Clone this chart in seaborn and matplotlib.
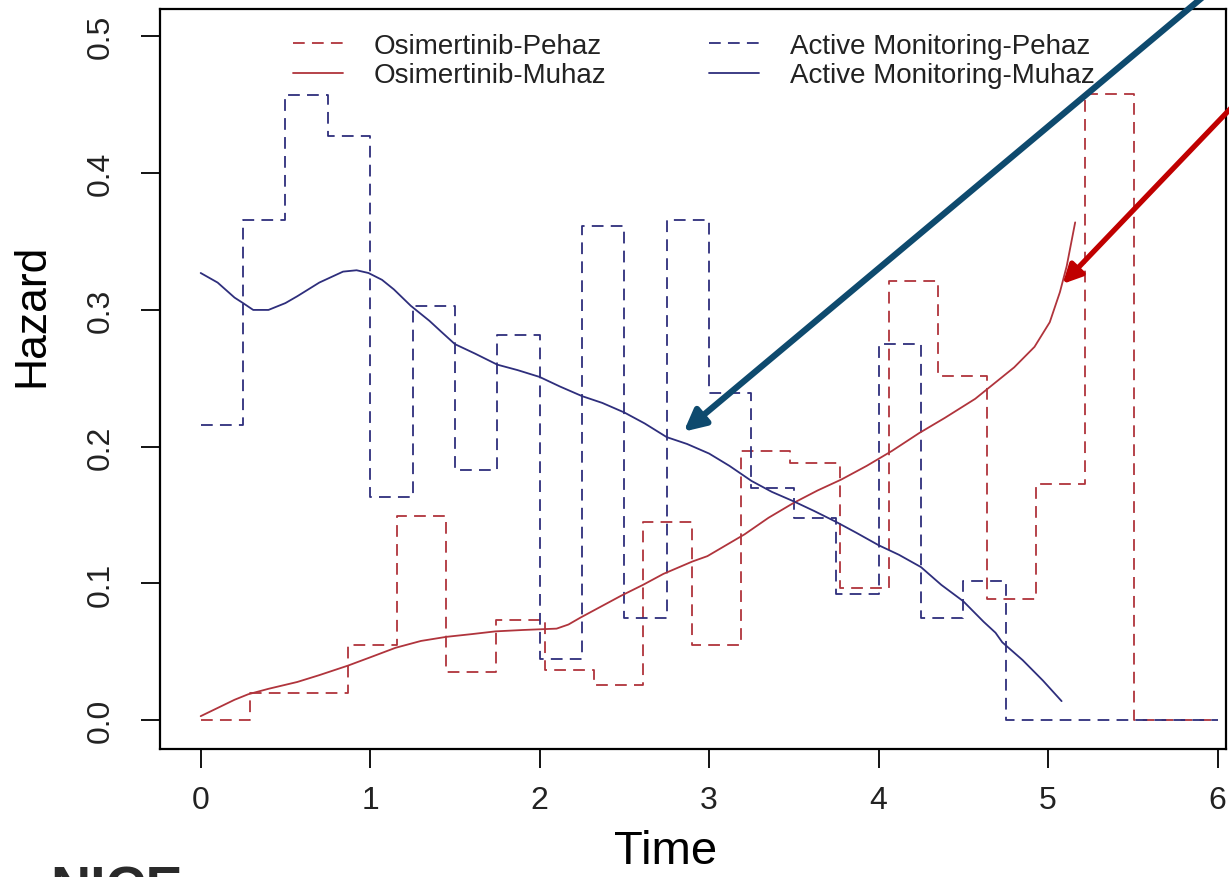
import numpy as np
import pandas as pd
import matplotlib
matplotlib.use("Agg")
import matplotlib.pyplot as plt
import seaborn as sns
from matplotlib.lines import Line2D
from matplotlib import font_manager

# ---------------- data ----------------
# Piecewise-constant hazard (pehaz) breakpoints and values
osi_breaks = [0.0, 0.29, 0.58, 0.87, 1.16, 1.45, 1.74, 2.03, 2.32, 2.61, 2.90,
              3.19, 3.48, 3.77, 4.06, 4.35, 4.64, 4.93, 5.22, 5.51, 6.00]
osi_pehaz = [0.000, 0.020, 0.020, 0.055, 0.149, 0.035, 0.073, 0.037, 0.026, 0.145,
             0.055, 0.197, 0.188, 0.097, 0.321, 0.252, 0.089, 0.173, 0.458, 0.000]

am_breaks = [0.0, 0.25, 0.5, 0.75, 1.0, 1.25, 1.5, 1.75, 2.0, 2.25, 2.5,
             2.75, 3.0, 3.25, 3.5, 3.75, 4.0, 4.25, 4.5, 4.75, 6.00]
am_pehaz = [0.216, 0.366, 0.457, 0.427, 0.163, 0.303, 0.183, 0.282, 0.045, 0.361,
            0.075, 0.366, 0.239, 0.170, 0.148, 0.092, 0.275, 0.075, 0.102, 0.000]

# Smoothed hazard (muhaz) curves
osi_mu_t = [0.0, 0.1, 0.2, 0.28, 0.4, 0.57, 0.7, 0.87, 1.0, 1.15, 1.3, 1.45, 1.6,
            1.74, 1.9, 2.1, 2.17, 2.24, 2.36, 2.48, 2.61, 2.73, 2.9, 2.99, 3.1,
            3.21, 3.35, 3.5, 3.64, 3.78, 3.93, 4.08, 4.24, 4.39, 4.57, 4.66, 4.8,
            4.92, 5.01, 5.07, 5.11, 5.16]
osi_mu_h = [0.003, 0.009, 0.015, 0.019, 0.023, 0.028, 0.033, 0.040, 0.046, 0.053,
            0.058, 0.061, 0.063, 0.065, 0.066, 0.067, 0.070, 0.075, 0.083, 0.091,
            0.099, 0.107, 0.116, 0.120, 0.128, 0.136, 0.148, 0.159, 0.168, 0.176,
            0.186, 0.197, 0.210, 0.221, 0.235, 0.244, 0.258, 0.273, 0.291, 0.313,
            0.332, 0.364]

am_mu_t = [0.0, 0.1, 0.2, 0.25, 0.31, 0.4, 0.5, 0.57, 0.7, 0.84, 0.92, 0.99, 1.07,
           1.14, 1.24, 1.35, 1.42, 1.5, 1.62, 1.75, 1.87, 2.0, 2.12, 2.25, 2.37,
           2.5, 2.62, 2.75, 2.87, 3.0, 3.12, 3.25, 3.37, 3.5, 3.62, 3.75, 3.87,
           4.0, 4.12, 4.25, 4.37, 4.5, 4.62, 4.69, 4.73, 4.85, 4.97, 5.08]
am_mu_h = [0.327, 0.320, 0.309, 0.305, 0.300, 0.300, 0.305, 0.310, 0.320, 0.328,
           0.329, 0.327, 0.322, 0.315, 0.303, 0.292, 0.284, 0.275, 0.268, 0.260,
           0.256, 0.251, 0.244, 0.237, 0.232, 0.225, 0.217, 0.207, 0.202, 0.195,
           0.186, 0.175, 0.167, 0.160, 0.153, 0.145, 0.137, 0.128, 0.121, 0.112,
           0.099, 0.087, 0.072, 0.064, 0.057, 0.044, 0.029, 0.014]

legend_labels = ["Osimertinib-Pehaz", "Osimertinib-Muhaz",
                 "Active Monitoring-Pehaz", "Active Monitoring-Muhaz"]
x_ticks = [0, 1, 2, 3, 4, 5, 6]
y_ticks = [0.0, 0.1, 0.2, 0.3, 0.4, 0.5]

# ---------------- style ----------------
sns.set_theme(style="white")
plt.rcParams["font.family"] = ["Liberation Sans", "DejaVu Sans"]

installed = {f.name for f in font_manager.fontManager.ttflist}
TICK_FAMILY = ["Liberation Sans Narrow", "Liberation Sans"] if "Liberation Sans Narrow" in installed \
    else ["Liberation Sans", "DejaVu Sans"]

RED = "#B0343C"
BLUE = "#2E2E7C"
DASH = (0, (6.5, 4))
LW = 1.3

fig = plt.figure(figsize=(12.29, 8.78), dpi=100)
ax = fig.add_axes([160 / 1229, 1 - 750 / 878, (1226 - 160) / 1229, (750 - 10) / 878])

def step_df(breaks, vals):
    return pd.DataFrame({"t": breaks, "h": list(vals) + [vals[-1]]})

osi_step = step_df(osi_breaks, osi_pehaz)
am_step = step_df(am_breaks, am_pehaz)

sns.lineplot(data=osi_step, x="t", y="h", ax=ax, estimator=None, sort=False,
             drawstyle="steps-post", color=RED, lw=LW, linestyle=DASH)
sns.lineplot(data=am_step, x="t", y="h", ax=ax, estimator=None, sort=False,
             drawstyle="steps-post", color=BLUE, lw=LW, linestyle=DASH)
sns.lineplot(x=osi_mu_t, y=osi_mu_h, ax=ax, estimator=None, sort=False,
             color=RED, lw=LW)
sns.lineplot(x=am_mu_t, y=am_mu_h, ax=ax, estimator=None, sort=False,
             color=BLUE, lw=LW)

ax.set_xlim(-0.24, 6.05)
ax.set_ylim(-0.021, 0.52)
ax.set_xticks(x_ticks)
ax.set_xticklabels([str(v) for v in x_ticks], family=TICK_FAMILY)
ax.set_yticks(y_ticks)
ax.set_yticklabels([f"{v:.1f}" for v in y_ticks], rotation=90, va="center",
                   family=TICK_FAMILY)
ax.tick_params(axis="both", which="major", direction="out", length=14, width=1.3,
               color="black", labelsize=23, labelcolor="#222222", pad=12,
               bottom=True, left=True)
ax.tick_params(axis="y", pad=18)
for s in ax.spines.values():
    s.set_color("black")
    s.set_linewidth(1.6)

ax.set_xlabel("Time", fontsize=34, color="black")
ax.xaxis.set_label_coords((666 - 160) / 1066, -0.108)
ax.set_ylabel("Hazard", fontsize=32, color="black")
ax.yaxis.set_label_coords(-0.101, (750 - 315) / 740)

handles = [Line2D([], [], color=RED, lw=LW, linestyle=DASH),
           Line2D([], [], color=RED, lw=LW),
           Line2D([], [], color=BLUE, lw=LW, linestyle=DASH),
           Line2D([], [], color=BLUE, lw=LW)]
ax.legend(handles, legend_labels, ncol=2, frameon=False, fontsize=20,
          loc="upper left", bbox_to_anchor=((293 - 160) / 1066, 1 - (34 - 10) / 740),
          borderaxespad=0, borderpad=0, handlelength=1.8, handletextpad=1.1,
          labelspacing=0.12, columnspacing=3.7, labelcolor="#222222")

# annotation arrows
ax.annotate("", xy=(2.85, 0.211), xytext=(5.983, 0.536), annotation_clip=False,
            arrowprops=dict(arrowstyle="-|>", color="#0E4A6E", lw=4.5,
                            mutation_scale=32, shrinkA=0, shrinkB=0))
ax.annotate("", xy=(5.086, 0.319), xytext=(6.137, 0.455), annotation_clip=False,
            arrowprops=dict(arrowstyle="-|>", color="#C00000", lw=3.8,
                            mutation_scale=28, shrinkA=0, shrinkB=0))

# partially visible caption at the bottom-left edge (cut off, as in the source)
fig.text(50 / 1229, 1 - 866 / 878, "NICE", fontsize=40, fontweight="bold",
         color="#2A2A2A", ha="left", va="top")

fig.savefig("out.png", dpi=100, facecolor="white")
